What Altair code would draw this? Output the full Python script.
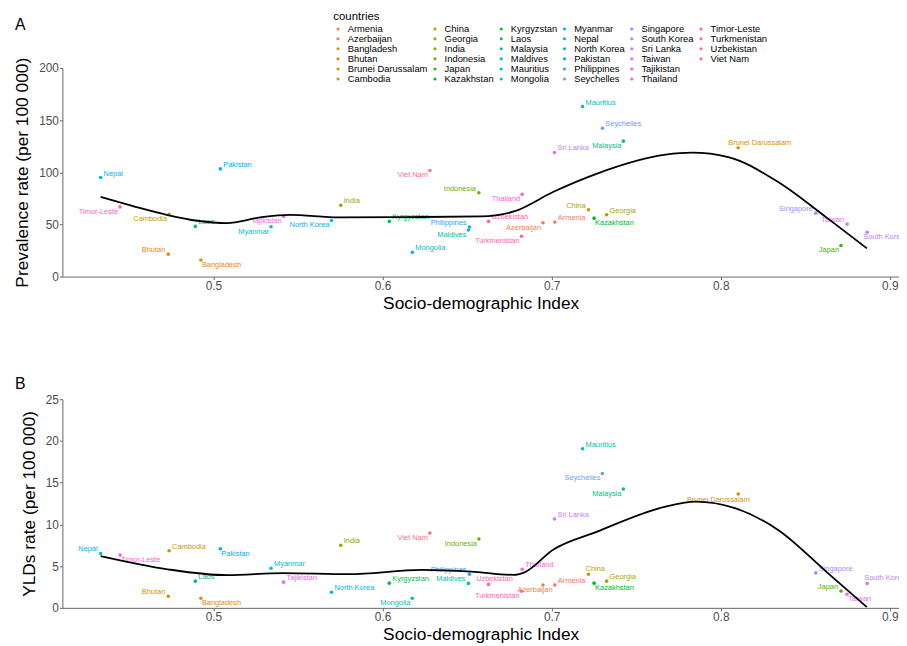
import math
import altair as alt
import pandas as pd

# ---------------- data ----------------
countries = ["Armenia", "Azerbaijan", "Bangladesh", "Bhutan", "Brunei Darussalam", "Cambodia",
             "China", "Georgia", "India", "Indonesia", "Japan", "Kazakhstan",
             "Kyrgyzstan", "Laos", "Malaysia", "Maldives", "Mauritius", "Mongolia",
             "Myanmar", "Nepal", "North Korea", "Pakistan", "Philippines", "Seychelles",
             "Singapore", "South Korea", "Sri Lanka", "Taiwan", "Tajikistan", "Thailand",
             "Timor-Leste", "Turkmenistan", "Uzbekistan", "Viet Nam"]

sdi = [0.7019, 0.6949, 0.4926, 0.4733, 0.8103, 0.4738,
       0.7218, 0.7325, 0.5753, 0.6570, 0.8711, 0.7251,
       0.6040, 0.4893, 0.7424, 0.6508, 0.7183, 0.6176,
       0.5341, 0.4333, 0.5698, 0.5041, 0.6514, 0.7300,
       0.8562, 0.8866, 0.7017, 0.8747, 0.5415, 0.6826,
       0.4448, 0.6822, 0.6627, 0.6280]

prevalence = [52.2, 51.6, 15.9, 21.5, 123.4, 59.8,
              64.0, 59.2, 68.3, 80.4, 29.8, 56.0,
              52.9, 48.1, 129.8, 44.6, 163.0, 23.2,
              47.8, 94.9, 53.8, 103.2, 47.5, 142.1,
              60.8, 42.4, 119.0, 50.3, 57.6, 78.8,
              66.8, 38.6, 52.9, 101.6]

ylds = [2.73, 2.73, 1.15, 1.39, 13.65, 6.84,
        4.03, 3.20, 7.50, 8.26, 2.02, 2.96,
        2.96, 3.20, 14.23, 2.93, 19.06, 1.15,
        4.74, 6.52, 1.86, 7.08, 4.03, 16.09,
        4.19, 2.93, 10.64, 1.62, 3.08, 4.62,
        6.32, 1.98, 2.81, 8.97]

# smoothed trend lines
curve_a_x = [0.4333, 0.4534, 0.4729, 0.4905, 0.5080, 0.5275, 0.5451, 0.5743, 0.6133,
             0.6582, 0.6777, 0.7011, 0.7265, 0.7674, 0.7830, 0.8044, 0.8337, 0.8630, 0.8864]
curve_a_y = [76.3, 67.1, 59.0, 53.5, 51.3, 56.7, 59.2, 56.7, 57.0,
             57.6, 62.4, 81.3, 98.5, 116.8, 118.7, 114.6, 90.8, 56.0, 27.0]

curve_b_x = [0.4333, 0.4729, 0.5080, 0.5412, 0.5802, 0.6231, 0.6524, 0.6777, 0.6836,
             0.7011, 0.7265, 0.7674, 0.7850, 0.8084, 0.8337, 0.8630, 0.8864]
curve_b_y = [6.2, 4.62, 3.91, 4.15, 4.03, 4.54, 4.35, 3.95, 4.23,
             7.0, 9.1, 12.13, 12.72, 11.94, 9.37, 4.23, 0.08]

# label placement side codes (ggrepel-like)
side_a = ["ru", "ld", "rd", "lu", "brA", "ld",
          "lu", "ru", "ru", "lu", "ld", "rd",
          "ru", "ru", "ld", "ld", "ru", "ru",
          "ld", "ru", "ld", "ru", "lu", "ru",
          "lu", "rdl", "ru", "lu", "ld", "ld",
          "ld", "ld", "ru", "ld"]
side_b = ["ru", "cd", "rd", "lu", "brB", "ru",
          "rul", "ru", "ru", "ld", "lu", "rd",
          "ru", "ru", "ld", "lu", "ru", "ld",
          "ru", "lu", "ru", "rd", "lu", "ld",
          "ru", "rul", "ru", "rd", "ru", "ru",
          "rd", "ld", "cu", "ld"]

SIDES = {
    "ru": ("left", 3, -4), "rd": ("left", 1, 5), "lu": ("right", -3, -4), "ld": ("right", -2, 5),
    "rul": ("left", -3, -5), "rdl": ("left", -4, 5), "cu": ("center", 6, -5), "cd": ("center", -8, 5),
    "brA": ("left", -10, -5), "brB": ("center", -20, 6),
}


# ---------------- colours: ggplot2 default hue palette ----------------
def hcl_hex(h, c=100.0, l=65.0):
    xn, yn, zn = 95.047, 100.0, 108.883
    hr = math.radians(h)
    u, v = c * math.cos(hr), c * math.sin(hr)
    y = yn * ((l + 16) / 116) ** 3 if l > 8 else yn * l / 903.3
    den = xn + 15 * yn + 3 * zn
    un, vn = 4 * xn / den, 9 * yn / den
    up, vp = u / (13 * l) + un, v / (13 * l) + vn
    x = 9.0 * y * up / (4 * vp)
    z = -x / 3 - 5 * y + 3 * y / vp
    x, y, z = x / 100, y / 100, z / 100
    rgb = [3.240479 * x - 1.537150 * y - 0.498535 * z,
           -0.969256 * x + 1.875992 * y + 0.041556 * z,
           0.055648 * x - 0.204043 * y + 1.057311 * z]
    out = []
    for ch in rgb:
        ch = 12.92 * ch if ch <= 0.0031308 else 1.055 * ch ** (1 / 2.4) - 0.055
        ch = min(1.0, max(0.0, ch))
        out.append(int(round(ch * 255)))
    return "#%02X%02X%02X" % tuple(out)


n = len(countries)
colors = [hcl_hex(15 + i * 360.0 / n) for i in range(n)]
# two invisible placeholder entries so the 6-column legend ends with a short last column
PLACEHOLDERS = [" ", "  "]
color_scale = alt.Scale(domain=countries + PLACEHOLDERS,
                        range=colors + ["rgba(0,0,0,0)", "rgba(0,0,0,0)"])

df = pd.DataFrame({"country": countries, "sdi": sdi, "prev": prevalence, "ylds": ylds,
                   "side_a": side_a, "side_b": side_b})
curve_a = pd.DataFrame({"x": curve_a_x, "y": curve_a_y})
curve_b = pd.DataFrame({"x": curve_b_x, "y": curve_b_y})

X_DOMAIN = [0.4107, 0.9054]
W, H = 846, 211
FONT = "Liberation Sans"


def panel(ycol, side_col, curve_df, ytitle, ydomain, yvalues, tag, tag_offset, tag_dy, legend):
    xs = alt.Scale(domain=X_DOMAIN, nice=False, zero=False)
    ys = alt.Scale(domain=ydomain, nice=False)
    xax = alt.Axis(title="Socio-demographic Index", values=[0.5, 0.6, 0.7, 0.8, 0.9], format=".1f")
    yax = alt.Axis(title=ytitle, values=yvalues)
    x = alt.X("sdi:Q", scale=xs, axis=xax)
    y = alt.Y(f"{ycol}:Q", scale=ys, axis=yax)

    pts = alt.Chart(df).mark_circle(size=13, opacity=1).encode(
        x=x, y=y, color=alt.Color("country:N", scale=color_scale, legend=legend))

    layers = [pts]
    used = []
    for s in df[side_col]:
        if s not in used:
            used.append(s)
    for s in used:
        align, dx, dy = SIDES[s]
        layers.append(
            alt.Chart(df).transform_filter(alt.datum[side_col] == s)
            .mark_text(align=align, baseline="middle", dx=dx, dy=dy, fontSize=7.5, clip=True, font=FONT)
            .encode(x=x, y=y, text="country:N",
                    color=alt.Color("country:N", scale=color_scale, legend=None)))

    line = alt.Chart(curve_df).mark_line(color="black", strokeWidth=1.8, interpolate="monotone", clip=True).encode(
        x=alt.X("x:Q", scale=xs, axis=xax), y=alt.Y("y:Q", scale=ys, axis=yax))
    layers.append(line)

    return alt.layer(*layers).properties(
        width=W, height=H,
        title=alt.TitleParams(tag, anchor="start", frame="group", dx=-48, dy=tag_dy, offset=tag_offset,
                              fontSize=16, fontWeight="normal", color="black", font=FONT))


legend = alt.Legend(title="countries", orient="none", legendX=274, legendY=-57, columns=6,
                    symbolLimit=0, symbolType="circle", symbolSize=10, symbolOpacity=1,
                    labelFontSize=9.5, titleFontSize=11.5, titleFontWeight="normal",
                    labelColor="black", titleColor="black", labelFont=FONT, titleFont=FONT,
                    rowPadding=-0.8, columnPadding=2, labelOffset=5, titlePadding=1, padding=0,
                    symbolStrokeWidth=0)

pa = panel("prev", "side_a", curve_a, "Prevalence rate (per 100 000)", [0, 200],
           [0, 50, 100, 150, 200], "A", 0, 22, legend)
pb = panel("ylds", "side_b", curve_b, "YLDs rate (per 100 000)", [0, 25],
           [0, 5, 10, 15, 20, 25], "B", 1, 0, None)

chart = alt.vconcat(pa, pb, spacing=65).resolve_legend(color="independent").properties(
    padding={"left": 5, "top": 0, "right": 0, "bottom": 0}
).configure(font=FONT).configure_view(stroke=None).configure_axis(
    grid=False, domainColor="#666666", domainWidth=1, tickColor="#666666", tickSize=3,
    labelFontSize=12, labelColor="#4D4D4D", labelFont=FONT, labelPadding=1,
    titleFontSize=17.5, titleFontWeight="normal", titleColor="black", titleFont=FONT,
).configure_axisX(titlePadding=3).configure_axisY(titlePadding=7)

chart.save("out.html", embed_options={"renderer": "svg", "actions": False})
